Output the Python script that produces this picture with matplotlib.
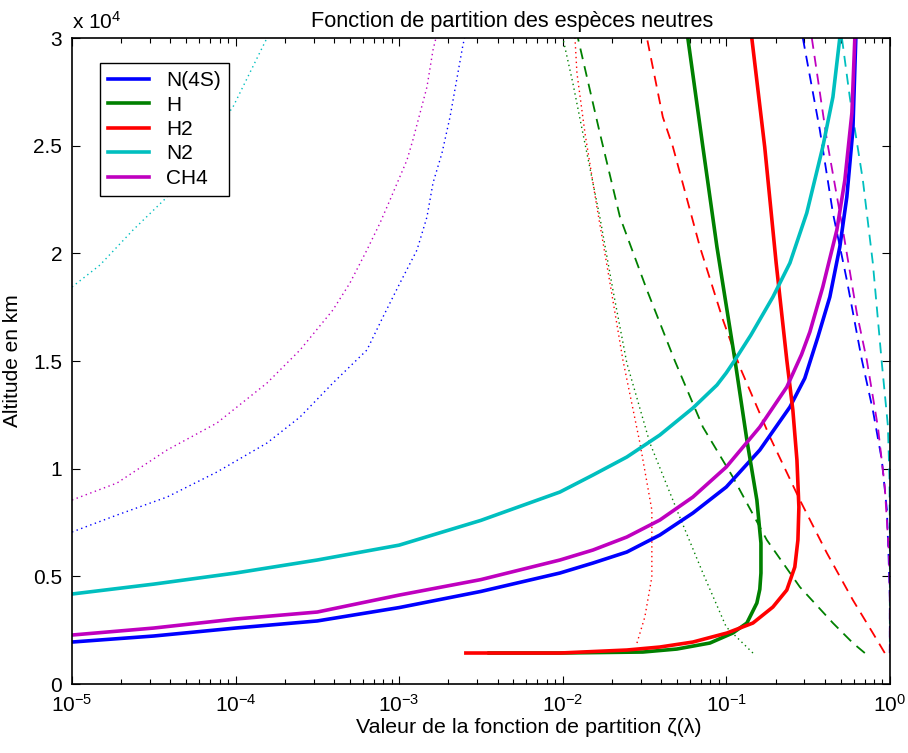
import numpy as np
import matplotlib
matplotlib.use("Agg")
import matplotlib.pyplot as plt
from matplotlib.ticker import FuncFormatter, LogLocator

plt.rcParams['font.family'] = ['Liberation Sans', 'DejaVu Sans']
plt.rcParams['mathtext.default'] = 'regular'

# log10 of the partition function value, and altitude in km
# solid lines
n4s_lz = [-5, -4.5, -4, -3.5, -3, -2.5, -2.017, -1.815, -1.608, -1.406, -1.204, -1.0, -0.795,
          -0.611, -0.52, -0.44, -0.367, -0.306, -0.263, -0.226, -0.208]
n4s_alt = [1950, 2230, 2600, 2930, 3550, 4300, 5155, 5619, 6130, 6920, 7941, 9149, 10867,
           12864, 14200, 16114, 17972, 20294, 22616, 25728, 30000]
h_lz = [-2.45, -2.017, -1.51, -1.302, -1.1, -0.96, -0.874, -0.813, -0.795, -0.788, -0.788, -0.813,
        -0.874, -0.947, -1.057, -1.143, -1.235]
h_alt = [1440, 1440, 1486, 1625, 1904, 2369, 2833, 3762, 4400, 5155, 6548, 8545,
         11331, 15047, 20294, 24939, 30000]
h2_lz = [-2.592, -2.017, -1.608, -1.406, -1.204, -0.996, -0.837, -0.715, -0.63, -0.581, -0.562,
         -0.556, -0.568, -0.593, -0.63, -0.695, -0.765, -0.844]
h2_alt = [1440, 1440, 1579, 1718, 1950, 2369, 2833, 3576, 4365, 5433, 6688,
          8220, 10403, 12725, 15047, 19551, 24939, 30000]
n2_lz = [-5, -4.5, -4, -3.5, -3, -2.5, -2.017, -1.815, -1.608, -1.406, -1.204, -1.057, -1.0,
         -0.947, -0.85, -0.715, -0.611, -0.508, -0.41, -0.348, -0.306]
n2_alt = [4180, 4640, 5155, 5760, 6450, 7600, 8916, 9706, 10542, 11564, 12817, 13886, 14450,
          15047, 16200, 17972, 19551, 21873, 24939, 27261, 30000]
ch4_lz = [-5, -4.5, -4, -3.5, -3, -2.5, -2.017, -1.815, -1.608, -1.406, -1.204, -1.0, -0.795,
          -0.63, -0.54, -0.489, -0.41, -0.324, -0.275, -0.232, -0.214]
ch4_alt = [2275, 2600, 3019, 3344, 4130, 4850, 5759, 6223, 6827, 7616, 8684, 10077, 11935,
           13792, 15300, 16350, 18437, 21084, 23405, 26517, 30000]

# dashed lines
n4s_d_lz = [-0.532, -0.428, -0.348, -0.263, -0.171, -0.104, -0.049, -0.018, -0.008, 0, 0]
n4s_d_alt = [30000, 25728, 21873, 18762, 15047, 12725, 10403, 8080, 6000, 4000, 1440]
h_d_lz = [-0.153, -0.226, -0.348, -0.55, -0.752, -0.96, -1.143, -1.314, -1.485, -1.65, -1.773, -1.852, -1.907]
h_d_alt = [1440, 1904, 2833, 4505, 6688, 9613, 11935, 15000, 18297, 21687, 25588, 28189, 30000]
h2_d_lz = [-0.031, -0.104, -0.226, -0.385, -0.55, -0.733, -0.917, -1.02, -1.161, -1.326, -1.388, -1.485]
h2_d_alt = [1440, 2369, 3901, 6084, 8545, 11470, 14721, 16904, 20294, 24939, 26331, 30000]
n2_d_lz = [-0.293, -0.245, -0.165, -0.104, -0.049, -0.012, -0.002, 0, 0]
n2_d_alt = [30000, 27261, 23405, 19551, 14907, 12000, 9500, 7000, 1440]
ch4_d_lz = [-0.477, -0.385, -0.287, -0.202, -0.141, -0.073, -0.031, -0.005, 0, 0]
ch4_d_alt = [30000, 25264, 21084, 17229, 15047, 11935, 9149, 6000, 4000, 1440]

# dotted lines
n4s_p_lz = [-5, -4.725, -4.419, -4.114, -3.808, -3.606, -3.405, -3.197, -3.099, -2.995, -2.891,
            -2.83, -2.793, -2.738, -2.689, -2.61, -2.6]
n4s_p_alt = [7059, 7848, 8684, 9845, 11192, 12400, 13978, 15511, 17043, 18622, 20155,
             21687, 23266, 24660, 26331, 29675, 30000]
h_p_lz = [-0.837, -1.0, -1.143, -1.302, -1.467, -1.608, -1.693, -1.773, -1.877, -1.938, -1.999]
h_p_alt = [1440, 2647, 5155, 8080, 11192, 14907, 18297, 21687, 25588, 27910, 30000]
h2_p_lz = [-1.546, -1.498, -1.455, -1.455, -1.528, -1.632, -1.711, -1.791, -1.864, -1.913, -1.925]
h2_p_alt = [1904, 3111, 4969, 8080, 11192, 15047, 18622, 22152, 25588, 28375, 30000]
n2_p_lz = [-5, -4.829, -4.627, -4.419, -4.016, -3.808]
n2_p_alt = [18437, 19458, 21084, 22616, 26796, 30000]
ch4_p_lz = [-5, -4.725, -4.419, -4.114, -3.808, -3.606, -3.405, -3.301, -3.197, -3.117, -3.056,
            -2.952, -2.916, -2.83, -2.793, -2.775]
ch4_p_alt = [8545, 9334, 10867, 12121, 13978, 15511, 17369, 18622, 20155, 21409, 22477,
             24335, 25264, 27725, 29443, 30000]

species = ['N(4S)', 'H', 'H2', 'N2', 'CH4']
colors = ['#0000ff', '#008000', '#ff0000', '#00bfbf', '#bf00bf']

solid = [(n4s_lz, n4s_alt), (h_lz, h_alt), (h2_lz, h2_alt), (n2_lz, n2_alt), (ch4_lz, ch4_alt)]
dashed = [(n4s_d_lz, n4s_d_alt), (h_d_lz, h_d_alt), (h2_d_lz, h2_d_alt), (n2_d_lz, n2_d_alt), (ch4_d_lz, ch4_d_alt)]
dotted = [(n4s_p_lz, n4s_p_alt), (h_p_lz, h_p_alt), (h2_p_lz, h2_p_alt), (n2_p_lz, n2_p_alt), (ch4_p_lz, ch4_p_alt)]

fig = plt.figure(figsize=(9.08, 7.53), dpi=100)
ax = fig.add_axes([0.0793, 0.0916, 0.9007, 0.8579])

for (lz, alt), c in zip(dotted, colors):
    ax.plot(10 ** np.array(lz), alt, color=c, lw=1.0, ls=(0, (1, 2.5)))
for (lz, alt), c in zip(dashed, colors):
    ax.plot(10 ** np.array(lz), alt, color=c, lw=1.3, ls=(0, (6, 4)))
for (lz, alt), c, name in zip(solid, colors, species):
    ax.plot(10 ** np.array(lz), alt, color=c, lw=2.6, label=name, solid_joinstyle='round')

ax.set_xscale('log')
ax.set_xlim(1e-5, 1)
ax.set_ylim(0, 30000)
ax.set_yticks(np.arange(0, 30001, 5000))
ax.yaxis.set_major_formatter(FuncFormatter(lambda v, p: '%g' % (v / 1e4)))
ax.xaxis.set_minor_locator(LogLocator(base=10, subs=np.arange(2, 10), numticks=20))

ax.tick_params(which='both', direction='in', top=True, right=True, labelsize=15, width=0.8)
ax.tick_params(which='major', length=6, pad=7)
ax.tick_params(which='minor', length=3.5)
for s in ax.spines.values():
    s.set_linewidth(1.2)

ax.text(0.0, 1.008, 'x 10$^4$', transform=ax.transAxes, fontsize=15, ha='left', va='bottom')
ax.set_title('Fonction de partition des espèces neutres', fontsize=15.7, pad=8, x=0.538)
ax.set_xlabel('Valeur de la fonction de partition ζ(λ)', fontsize=15.4, labelpad=2, x=0.559)
ax.set_ylabel('Altitude en km', fontsize=15, labelpad=8)

leg = ax.legend(loc='upper left', bbox_to_anchor=(0.034, 0.961), borderaxespad=0,
                fancybox=False, edgecolor='black', fontsize=15, handlelength=2.0,
                handletextpad=0.8, labelspacing=0.26, borderpad=0.38, framealpha=1)
leg.get_frame().set_linewidth(1.0)

fig.savefig('out.png', dpi=100)
